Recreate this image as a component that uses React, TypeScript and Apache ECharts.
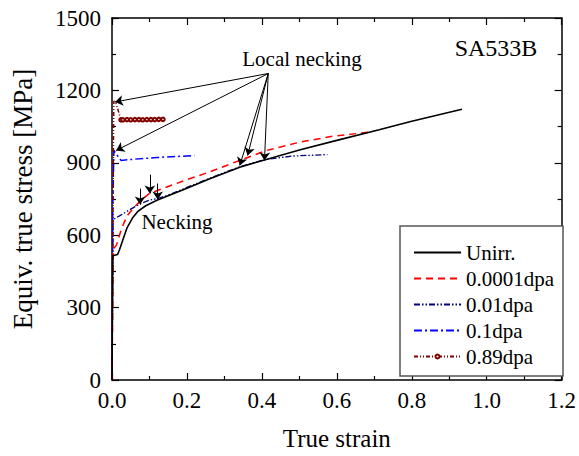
import React, { useEffect, useRef } from "react";
import * as echarts from "echarts";

// ---- data ----
const seriesNames = ["Unirr.", "0.0001dpa", "0.01dpa", "0.1dpa", "0.89dpa"];

const unirr: number[][] = [
  [0, 0], [0.002, 515], [0.015, 520], [0.02, 540], [0.03, 585], [0.04, 630],
  [0.055, 672], [0.07, 700], [0.09, 722], [0.12, 745], [0.16, 770], [0.2, 795],
  [0.261, 834], [0.341, 882], [0.407, 912], [0.5, 953], [0.6, 993],
  [0.713, 1037], [0.8, 1072], [0.934, 1122],
];
const dpa0001: number[][] = [
  [0, 0], [0.003, 540], [0.012, 560], [0.025, 625], [0.04, 680], [0.06, 718],
  [0.08, 748], [0.1, 773], [0.15, 802], [0.2, 830], [0.26, 862], [0.341, 910],
  [0.412, 951], [0.5, 985], [0.589, 1010], [0.687, 1027],
];
const dpa001: number[][] = [
  [0, 0], [0.003, 665], [0.02, 680], [0.05, 708], [0.075, 730], [0.1, 745],
  [0.122, 752], [0.16, 772], [0.2, 798], [0.261, 836], [0.341, 884],
  [0.404, 912], [0.482, 928], [0.575, 934],
];
const dpa01: number[][] = [
  [0, 0], [0.002, 700], [0.005, 951], [0.012, 935], [0.024, 910],
  [0.06, 915], [0.12, 922], [0.22, 930],
];
const dpa089: number[][] = [
  [0, 0], [0.004, 1000], [0.005, 1156], [0.01, 1150], [0.024, 1078],
  [0.029, 1078], [0.04, 1079], [0.05, 1078], [0.061, 1079], [0.072, 1079],
  [0.082, 1078], [0.093, 1079], [0.104, 1079], [0.114, 1079], [0.125, 1080],
  [0.136, 1080],
];
const dpa089MarkerFrom = 4; // points from this index on carry circle markers

// annotation arrows (data coordinates)
const localNeckingFrom = [0.417, 1270];
const localNeckingTips: number[][] = [
  [0.008, 1152], [0.011, 951], [0.341, 889], [0.362, 930], [0.407, 910],
];
// [strain, stress at arrow tail, stress at arrow tip]
const neckingArrows: number[][] = [
  [0.075, 793, 727], [0.101, 851, 773], [0.122, 814, 748],
];

const xTicks = { min: 0, max: 1.2, interval: 0.2 };
const yTicks = { min: 0, max: 1500, interval: 300 };

const FONT = "Liberation Serif, Times New Roman, serif";

export default function App() {
  const ref = useRef<HTMLDivElement>(null);
  useEffect(() => {
    if (!ref.current) return;
    const chart = echarts.init(ref.current, null, { renderer: "svg" });

    const axisCommon = {
      axisLine: { show: true, onZero: false, lineStyle: { color: "#000", width: 1.5 } },
      axisTick: { show: true, inside: true, length: 7, lineStyle: { color: "#000", width: 1.2 } },
      minorTick: { show: true, splitNumber: 2, length: 4, lineStyle: { color: "#000", width: 1.2 } },
      splitLine: { show: false },
    };

    const arrowLines: any[] = [];
    localNeckingTips.forEach((t) => {
      arrowLines.push([
        { coord: localNeckingFrom, symbol: "none" },
        { coord: t, symbol: "arrow" },
      ]);
    });
    neckingArrows.forEach((a) => {
      arrowLines.push([
        { coord: [a[0], a[1]], symbol: "none" },
        { coord: [a[0], a[2]], symbol: "arrow" },
      ]);
    });

    const option: any = {
      animation: false,
      grid: { left: 112, right: 16, top: 18, bottom: 73 },
      xAxis: [
        {
          type: "value", position: "bottom", ...xTicks, ...axisCommon,
          axisLabel: {
            fontSize: 23, color: "#000", fontFamily: FONT, margin: 9,
            formatter: (v: number) => v.toFixed(1),
          },
          name: "True strain", nameLocation: "middle", nameGap: 46,
          nameTextStyle: { fontSize: 25, color: "#000", fontFamily: FONT },
        },
        {
          type: "value", position: "top", ...xTicks, ...axisCommon,
          axisLabel: { show: false },
        },
      ],
      yAxis: [
        {
          type: "value", position: "left", ...yTicks, ...axisCommon,
          axisLabel: {
            fontSize: 23, color: "#000", fontFamily: FONT, margin: 11,
            formatter: (v: number) => String(v),
          },
          name: "Equiv. true stress [MPa]", nameLocation: "middle", nameGap: 76,
          nameTextStyle: { fontSize: 27, color: "#000", fontFamily: FONT },
        },
        {
          type: "value", position: "right", ...yTicks, ...axisCommon,
          axisLabel: { show: false },
        },
      ],
      legend: {
        orient: "vertical", left: 408, top: 237, itemWidth: 47, itemHeight: 5, itemGap: 5,
        data: seriesNames.map((n, i) =>
          i < 4 ? { name: n, itemStyle: { opacity: 0 } } : { name: n }
        ),
        textStyle: { fontSize: 21, fontFamily: FONT, color: "#000", lineHeight: 21 },
        selectedMode: false,
      },
      graphic: [
        {
          type: "rect", z: 1,
          shape: { x: 400, y: 226, width: 163, height: 150 },
          style: { fill: "#fff", stroke: "#555", lineWidth: 1.5 },
        },
        {
          type: "text", x: 302, y: 59, z: 10,
          style: { text: "Local necking", fontSize: 21, fontFamily: FONT, fill: "#000", align: "center", verticalAlign: "middle" },
        },
        {
          type: "text", x: 496, y: 48, z: 10,
          style: { text: "SA533B", fontSize: 24, fontFamily: FONT, fill: "#000", align: "center", verticalAlign: "middle" },
        },
        {
          type: "text", x: 177, y: 222, z: 10,
          style: { text: "Necking", fontSize: 21, fontFamily: FONT, fill: "#000", align: "center", verticalAlign: "middle" },
        },
      ],
      series: [
        {
          name: seriesNames[0], type: "line", data: unirr, symbol: "none",
          lineStyle: { color: "#000", width: 1.6, type: "solid" }, itemStyle: { color: "#000" },
          markLine: {
            silent: true, symbolSize: 8, animation: false,
            label: { show: false }, emphasis: { disabled: true },
            lineStyle: { color: "#000", width: 1, type: "solid" },
            data: arrowLines,
          },
          z: 5,
        },
        {
          name: seriesNames[1], type: "line", data: dpa0001, symbol: "none",
          lineStyle: { color: "#ff0000", width: 1.5, type: [7, 5] }, itemStyle: { color: "#ff0000" },
          z: 4,
        },
        {
          name: seriesNames[2], type: "line", data: dpa001, symbol: "none",
          lineStyle: { color: "#000080", width: 1.3, type: [6, 2, 1.5, 2, 1.5, 2] }, itemStyle: { color: "#000080" },
          z: 3,
        },
        {
          name: seriesNames[3], type: "line", data: dpa01, symbol: "none",
          lineStyle: { color: "#0000ff", width: 1.5, type: [8, 3, 2, 3] }, itemStyle: { color: "#0000ff" },
          z: 3,
        },
        {
          name: seriesNames[4], type: "line", symbol: "emptyCircle", symbolSize: 3.5, showSymbol: true,
          data: dpa089.map((p, i) => (i >= dpa089MarkerFrom ? { value: p } : { value: p, symbol: "none" })),
          lineStyle: { color: "#800000", width: 1.5, type: [4, 2, 1, 2, 1, 2] },
          itemStyle: { color: "#800000", borderWidth: 0.8 },
          z: 3,
        },
      ],
    };
    chart.setOption(option);
    return () => chart.dispose();
  }, []);
  return (
    <div
      ref={ref}
      style={{ position: "fixed", left: 0, top: 0, width: 579, height: 456, background: "#fff" }}
    />
  );
}
